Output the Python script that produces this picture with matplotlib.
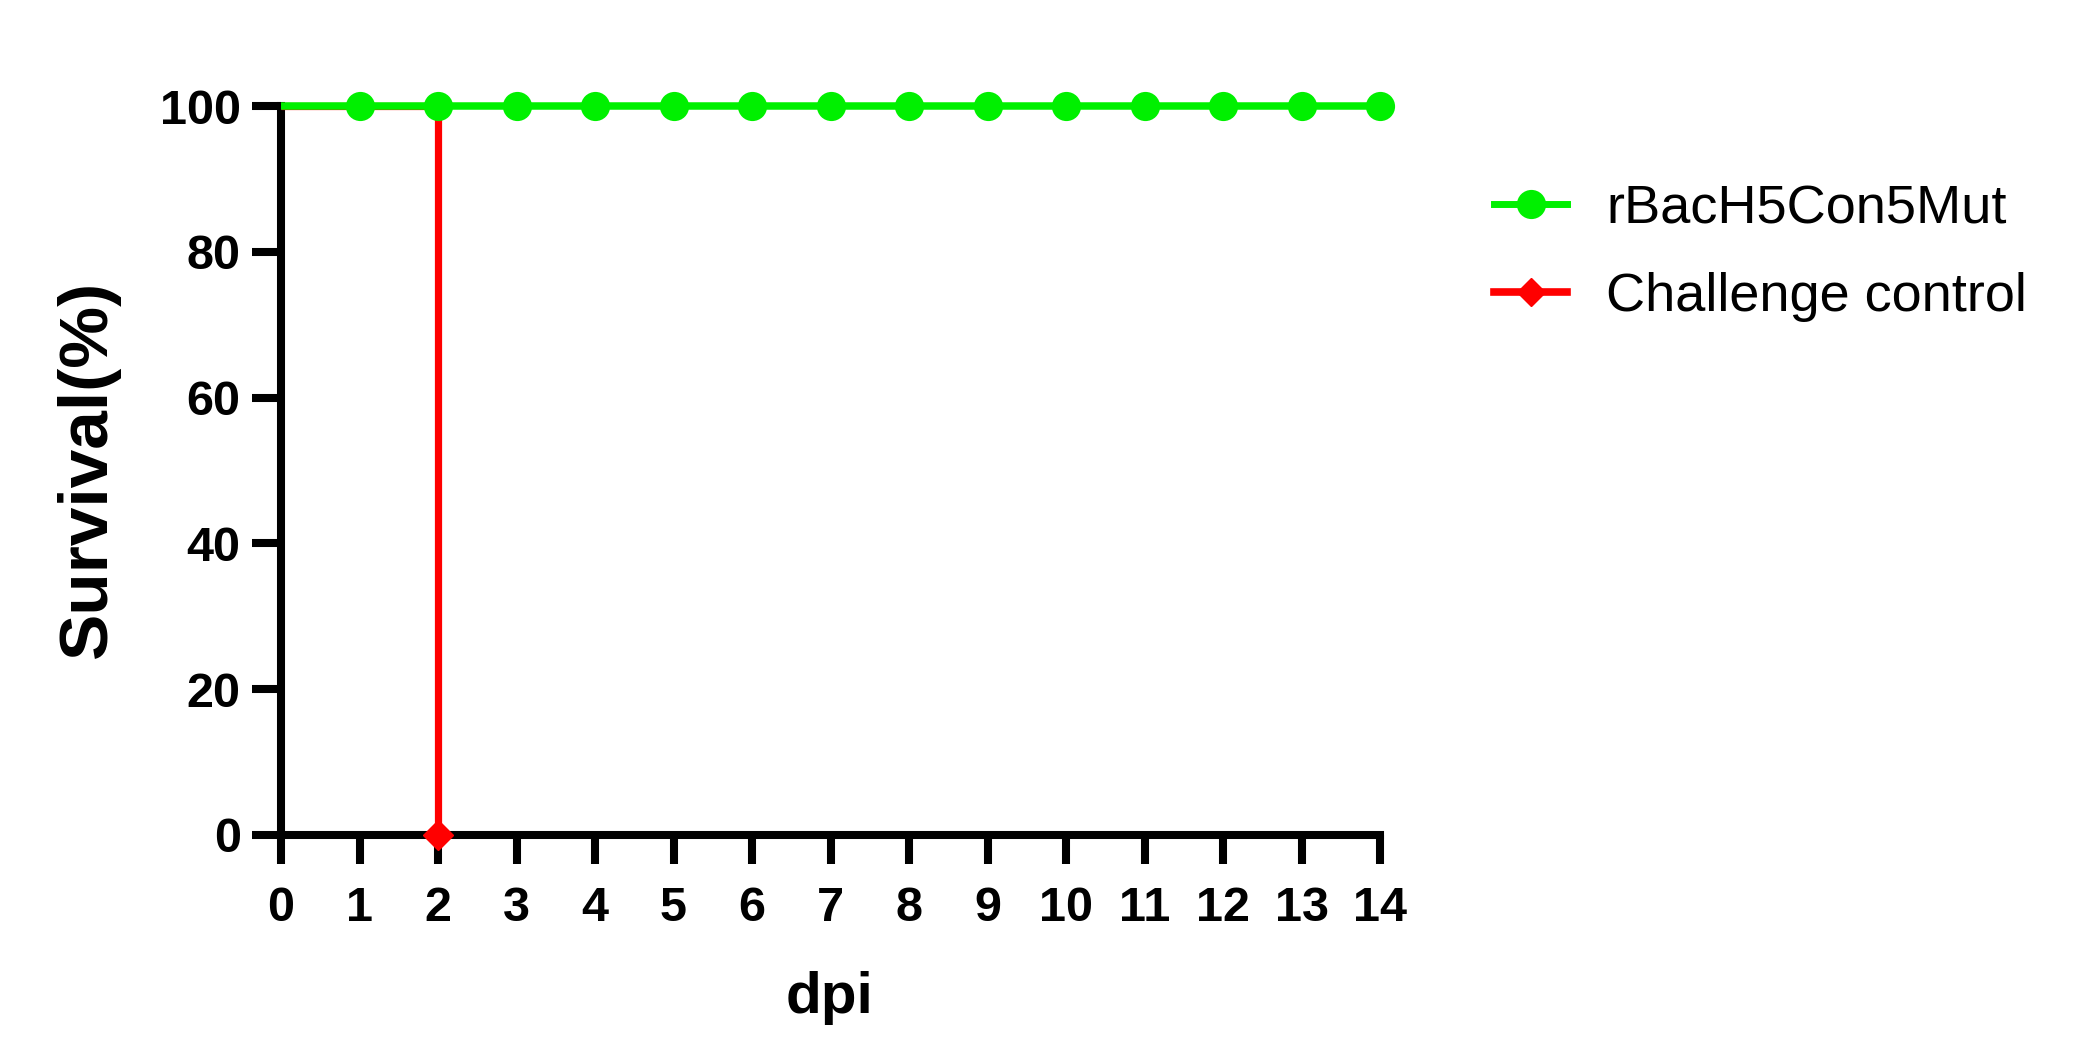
import matplotlib
matplotlib.use("Agg")
import matplotlib.pyplot as plt

days = [0, 1, 2, 3, 4, 5, 6, 7, 8, 9, 10, 11, 12, 13, 14]
vacc_survival = [100] * 15
ctrl_days = [0, 2, 2]
ctrl_survival = [100, 100, 0]
yticks = [0, 20, 40, 60, 80, 100]
labels = ["rBacH5Con5Mut", "Challenge control"]

GREEN = "#00f000"
RED = "#ff0000"

plt.rcParams['font.family'] = ['Liberation Sans', 'DejaVu Sans']

fig = plt.figure(figsize=(20.91, 10.46), dpi=100)
ax = fig.add_axes([281/2091, 211/1046, (1380-281)/2091, (835-106)/1046])

# control (drawn below)
ax.plot(ctrl_days, ctrl_survival, color=RED, lw=5.2, zorder=3, clip_on=False, solid_capstyle='butt')
ax.plot([ctrl_days[-1]], [ctrl_survival[-1]], linestyle='none', marker='D', ms=15,
        color=RED, mew=1, zorder=6, clip_on=False)
# vaccinated
ax.plot(days, vacc_survival, color=GREEN, lw=5.4, zorder=4, clip_on=False, solid_capstyle='butt')
ax.plot(days[1:], vacc_survival[1:], linestyle='none', marker='o', ms=21,
        color=GREEN, mew=0, zorder=5, clip_on=False)

# legend proxies
h1, = ax.plot([], [], color=GREEN, lw=5, marker='o', ms=21, mew=0)
h2, = ax.plot([], [], color=RED, lw=5.5, marker='D', ms=14, mew=1)
fig.legend([h1, h2], labels, loc='upper left', bbox_to_anchor=(1494/2091, 1-184/1046),
           frameon=False, fontsize=39, handlelength=1.35, handletextpad=0.72,
           labelspacing=0.70, borderpad=0, borderaxespad=0, numpoints=1)

ax.set_xlim(0, 14)
ax.set_ylim(0, 100)
ax.set_xticks(days)
ax.set_yticks(yticks)
for s in ['top', 'right']:
    ax.spines[s].set_visible(False)
for s in ['left', 'bottom']:
    ax.spines[s].set_linewidth(5.8)
    ax.spines[s].set_capstyle('projecting')
ax.tick_params(axis='both', direction='out', length=21, width=5.8)
ax.tick_params(axis='x', pad=16)
ax.tick_params(axis='y', pad=8)
for lab in ax.get_xticklabels() + ax.get_yticklabels():
    lab.set_fontsize(35)
    lab.set_fontweight('bold')

fig.text(88/2091, 1-469/1046, "Survival(%)", rotation=90, ha='center', va='center',
         fontsize=50, fontweight='bold')
fig.text(829/2091, 1-998/1046, "dpi", ha='center', va='center',
         fontsize=42, fontweight='bold')

fig.savefig("out.png", dpi=100)
